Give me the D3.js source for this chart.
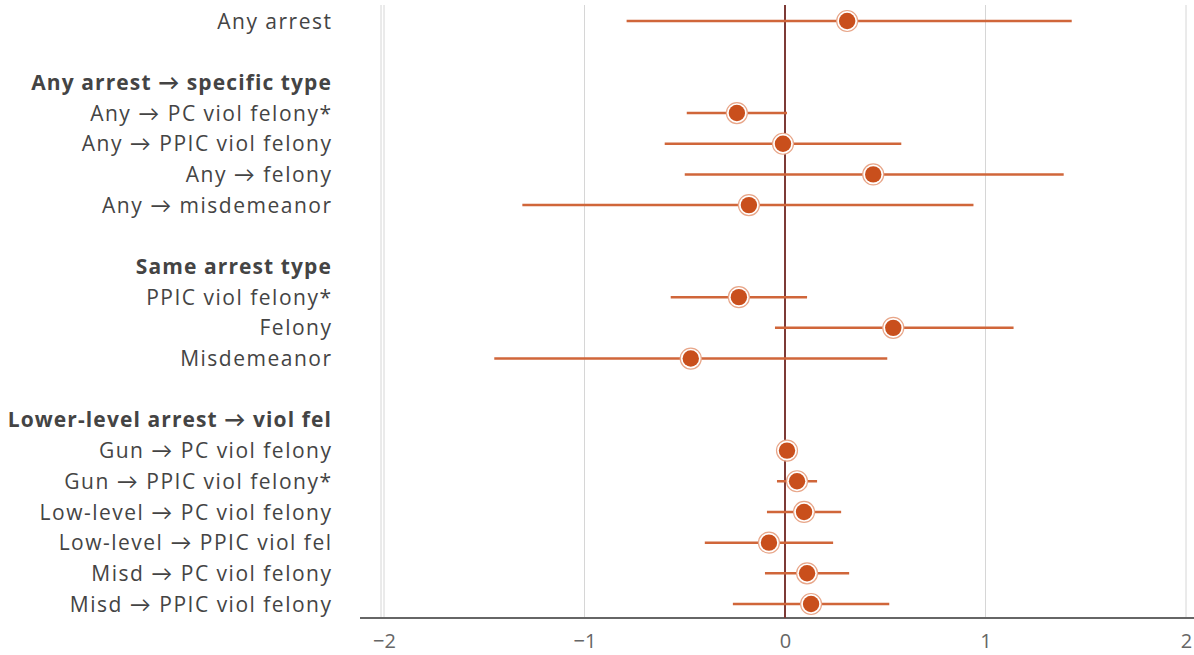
<!DOCTYPE html>
<html>
<head>
<meta charset="utf-8">
<script src="https://cdn.jsdelivr.net/npm/d3@7"></script>
<style>
  body { margin: 0; background: #fff; }
  svg { display: block; font-family: "Open Sans", Lato, sans-serif; }
</style>
</head>
<body>
<svg id="chart" width="1194" height="655"></svg>
<script>
// rows top to bottom; headers are bold, blanks are spacers
var rows = [
  "Any arrest", "_b1",
  "Any arrest \u2192 specific type",
  "Any \u2192 PC viol felony*", "Any \u2192 PPIC viol felony", "Any \u2192 felony", "Any \u2192 misdemeanor", "_b2",
  "Same arrest type",
  "PPIC viol felony*", "Felony", "Misdemeanor", "_b3",
  "Lower-level arrest \u2192 viol fel",
  "Gun \u2192 PC viol felony", "Gun \u2192 PPIC viol felony*", "Low-level \u2192 PC viol felony",
  "Low-level \u2192 PPIC viol fel", "Misd \u2192 PC viol felony", "Misd \u2192 PPIC viol felony"
];
var headers = ["Any arrest \u2192 specific type", "Same arrest type", "Lower-level arrest \u2192 viol fel"];

var estRows = [
  "Any arrest",
  "Any \u2192 PC viol felony*", "Any \u2192 PPIC viol felony", "Any \u2192 felony", "Any \u2192 misdemeanor",
  "PPIC viol felony*", "Felony", "Misdemeanor",
  "Gun \u2192 PC viol felony", "Gun \u2192 PPIC viol felony*", "Low-level \u2192 PC viol felony",
  "Low-level \u2192 PPIC viol fel", "Misd \u2192 PC viol felony", "Misd \u2192 PPIC viol felony"
];
var estimate = [0.31, -0.24, -0.01, 0.44, -0.18, -0.23, 0.54, -0.47, 0.01, 0.06, 0.095, -0.08, 0.11, 0.13];
var lower    = [-0.79, -0.49, -0.60, -0.50, -1.31, -0.57, -0.05, -1.45, -0.02, -0.04, -0.09, -0.40, -0.10, -0.26];
var upper    = [1.43, 0.01, 0.58, 1.39, 0.94, 0.11, 1.14, 0.51, 0.04, 0.16, 0.28, 0.24, 0.32, 0.52];
var xTicks = [-2, -1, 0, 1, 2];

var svg = d3.select("#chart");

var x = d3.scaleLinear().domain([-2, 2]).range([384, 1186]);
var y = d3.scalePoint().domain(rows).range([21, 604]);
var axisY = 618;

// grid
svg.append("g").selectAll("line")
    .data(xTicks.filter(function(d){ return d !== 0; }))
    .enter().append("line")
    .attr("x1", function(d){ return x(d); })
    .attr("x2", function(d){ return x(d); })
    .attr("y1", 5).attr("y2", axisY)
    .attr("stroke", "#d6d6d6").attr("stroke-width", 1);
// extra left edge line
svg.append("line")
    .attr("x1", 381).attr("x2", 381).attr("y1", 5).attr("y2", axisY)
    .attr("stroke", "#d6d6d6");

// x axis
var xAxis = svg.append("g")
    .attr("transform", "translate(0," + axisY + ")")
    .call(d3.axisBottom(x).tickValues(xTicks).tickSize(0).tickPadding(16)
        .tickFormat(function(d){ return d < 0 ? "\u2212" + Math.abs(d) : d; }));
xAxis.select(".domain").remove();
xAxis.selectAll("text")
    .attr("fill", "#666").style("font-size", "20px").style("font-family", "'Open Sans', sans-serif");
svg.append("line")
    .attr("x1", 360).attr("x2", 1194).attr("y1", axisY).attr("y2", axisY)
    .attr("stroke", "#666").attr("stroke-width", 2);

// zero line
svg.append("line")
    .attr("x1", x(0)).attr("x2", x(0)).attr("y1", 5).attr("y2", axisY)
    .attr("stroke", "#7d3a36").attr("stroke-width", 2);

// labels
svg.append("g").selectAll("text")
    .data(rows.filter(function(d){ return d.charAt(0) !== "_"; }))
    .enter().append("text")
    .attr("x", function(d){ return headers.indexOf(d) >= 0 ? 332 : 332.5; })
    .attr("y", function(d){ return y(d); })
    .attr("dy", "0.36em")
    .attr("text-anchor", "end")
    .attr("fill", "#444")
    .style("font-size", "21px")
    .style("letter-spacing", function(d){ return headers.indexOf(d) >= 0 ? "1.1px" : "1.5px"; })
    .style("font-weight", function(d){ return headers.indexOf(d) >= 0 ? "bold" : "normal"; })
    .text(function(d){ return d; });

// whiskers + dots
var data = estRows.map(function(r, i){
    return {row: r, est: estimate[i], lo: lower[i], hi: upper[i]};
});

var g = svg.append("g");
g.selectAll("line.ci")
    .data(data)
    .enter().append("line")
    .attr("class", "ci")
    .attr("x1", function(d){ return x(d.lo); })
    .attr("x2", function(d){ return x(d.hi); })
    .attr("y1", function(d){ return y(d.row); })
    .attr("y2", function(d){ return y(d.row); })
    .attr("stroke", "#d0663a").attr("stroke-width", 2.5);

g.selectAll("circle.ring")
    .data(data)
    .enter().append("circle")
    .attr("class", "ring")
    .attr("cx", function(d){ return x(d.est); })
    .attr("cy", function(d){ return y(d.row); })
    .attr("r", 10.5)
    .attr("fill", "#fff").attr("stroke", "#e8a689").attr("stroke-width", 1.2);

g.selectAll("circle.dot")
    .data(data)
    .enter().append("circle")
    .attr("class", "dot")
    .attr("cx", function(d){ return x(d.est); })
    .attr("cy", function(d){ return y(d.row); })
    .attr("r", 8.2)
    .attr("fill", "#c94f1c");
</script>
</body>
</html>
